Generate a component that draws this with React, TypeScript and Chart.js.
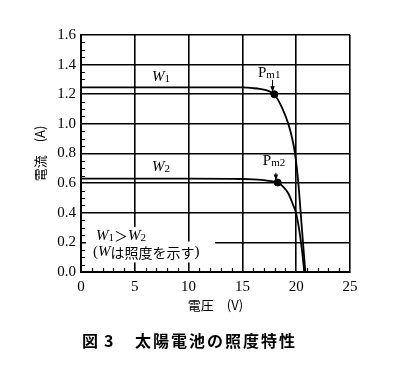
import React, { useEffect, useRef } from "react";
import { Chart, registerables } from "chart.js";

Chart.register(...registerables);

// ---- data ----
const voltageW1 = [0, 5, 10, 14, 15, 16, 16.6, 17.4, 17.97, 18.74, 19.27, 19.6, 19.89, 20.2, 20.5, 20.85];
const currentW1 = [1.247, 1.247, 1.247, 1.247, 1.246, 1.241, 1.236, 1.223, 1.2, 1.1, 1.0, 0.91, 0.8, 0.6, 0.32, 0];

const voltageW2 = [0, 5, 10, 15, 16, 17, 17.7, 18.28, 18.8, 19.27, 19.73, 19.98, 20.29, 20.55, 20.75];
const currentW2 = [0.63, 0.63, 0.63, 0.628, 0.626, 0.62, 0.614, 0.604, 0.575, 0.53, 0.45, 0.4, 0.28, 0.14, 0];

const pmVoltage = [17.97, 18.28];
const pmCurrent = [1.2, 0.604];
const pmNames = ["Pm1", "Pm2"];
const pmLabelV = [16.45, 16.9];
const pmLabelI = [1.345, 0.75];
const pmArrowTailI = [1.297, 0.67];

const curveNames = ["W1", "W2"];
const curveLabelV = [6.6, 6.6];
const curveLabelI = [1.318, 0.709];

const xTicks = [0, 5, 10, 15, 20, 25];
const yTicks = [0, 0.2, 0.4, 0.6, 0.8, 1.0, 1.2, 1.4, 1.6];

const xTitle = "電圧　(V)";
const yTitle = "電流　(A)";
const noteLine1V = 1.39;
const noteLine1I = 0.243;
const noteLine2V = 1.12;
const noteLine2I = 0.132;
const captionFig = "図 3";
const captionText = "太陽電池の照度特性";

const SERIF = "'Liberation Serif', 'DejaVu Serif', serif";
const JP = "'Noto Sans CJK JP', sans-serif";

type Run = { text: string; font: string; dy?: number };

function drawRuns(ctx: CanvasRenderingContext2D, x: number, y: number, runs: Run[]) {
  let cx = x;
  for (const r of runs) {
    ctx.font = r.font;
    ctx.fillText(r.text, cx, y + (r.dy || 0));
    cx += ctx.measureText(r.text).width;
  }
  return cx;
}

const annotationPlugin = {
  id: "annotations",
  beforeDatasetsDraw(chart: any) {
    const { ctx, chartArea } = chart;
    const xs = chart.scales.x;
    const ys = chart.scales.y;
    ctx.save();
    // white boxes behind the note
    const n1x = xs.getPixelForValue(noteLine1V);
    const n1y = ys.getPixelForValue(noteLine1I);
    const n2x = xs.getPixelForValue(noteLine2V);
    const n2y = ys.getPixelForValue(noteLine2I);
    ctx.fillStyle = "#fff";
    ctx.fillRect(chartArea.left + 5, n1y - 9, n1x + 57 - (chartArea.left + 5), 16);
    ctx.fillRect(chartArea.left + 5, n2y - 11, n2x + 122 - (chartArea.left + 5), 21);
    // minor ticks
    ctx.strokeStyle = "#000";
    ctx.lineWidth = 1.2;
    ctx.beginPath();
    for (let k = 1; k < 32; k++) {
      if (k % 4 === 0) continue;
      const py = Math.round(ys.getPixelForValue(k * 0.05)) + 0.5;
      ctx.moveTo(chartArea.left, py);
      ctx.lineTo(chartArea.left + 4, py);
    }
    for (let k = 1; k < 25; k++) {
      if (k % 5 === 0) continue;
      const px = Math.round(xs.getPixelForValue(k)) + 0.5;
      ctx.moveTo(px, chartArea.bottom);
      ctx.lineTo(px, chartArea.bottom - 4);
    }
    ctx.stroke();
    ctx.restore();
  },
  afterDatasetsDraw(chart: any) {
    const { ctx, chartArea } = chart;
    const xs = chart.scales.x;
    const ys = chart.scales.y;
    ctx.save();
    ctx.fillStyle = "#000";
    ctx.strokeStyle = "#000";
    ctx.textBaseline = "middle";
    ctx.textAlign = "left";
    // W1 / W2 labels
    curveNames.forEach((nm, i) => {
      drawRuns(ctx, xs.getPixelForValue(curveLabelV[i]), ys.getPixelForValue(curveLabelI[i]), [
        { text: nm[0], font: `italic 15px ${SERIF}` },
        { text: nm.slice(1), font: `11px ${SERIF}`, dy: 2 },
      ]);
    });
    // Pm labels and arrows
    pmNames.forEach((nm, i) => {
      const lx = xs.getPixelForValue(pmLabelV[i]);
      const ly = ys.getPixelForValue(pmLabelI[i]);
      drawRuns(ctx, lx, ly, [
        { text: nm[0], font: `15px ${SERIF}` },
        { text: nm.slice(1), font: `11px ${SERIF}`, dy: 2 },
      ]);
      const ax = xs.getPixelForValue(pmVoltage[i]) - 1.8;
      const ty = ys.getPixelForValue(pmArrowTailI[i]);
      const hy = ys.getPixelForValue(pmCurrent[i]) - 3;
      ctx.lineWidth = 1;
      ctx.beginPath();
      ctx.moveTo(ax, ty);
      ctx.lineTo(ax, hy);
      ctx.stroke();
      ctx.beginPath();
      ctx.moveTo(ax, hy + 1);
      ctx.lineTo(ax - 2.2, hy - 5);
      ctx.lineTo(ax + 2.2, hy - 5);
      ctx.closePath();
      ctx.fill();
    });
    // note text
    const n1x = xs.getPixelForValue(noteLine1V);
    const n1y = ys.getPixelForValue(noteLine1I);
    drawRuns(ctx, n1x, n1y, [
      { text: "W", font: `italic 15px ${SERIF}` },
      { text: "1", font: `11px ${SERIF}`, dy: 2 },
      { text: "＞", font: `14px ${JP}` },
      { text: "W", font: `italic 15px ${SERIF}` },
      { text: "2", font: `11px ${SERIF}`, dy: 2 },
    ]);
    const n2x = xs.getPixelForValue(noteLine2V);
    const n2y = ys.getPixelForValue(noteLine2I);
    drawRuns(ctx, n2x, n2y, [
      { text: "(", font: `15px ${SERIF}` },
      { text: "W", font: `italic 15px ${SERIF}` },
      { text: "は照度を示す", font: `14px ${JP}` },
      { text: ")", font: `15px ${SERIF}` },
    ]);
    // caption
    const cy = chartArea.bottom + 69;
    ctx.font = `bold 16px ${JP}`;
    (ctx as any).letterSpacing = "0px";
    ctx.fillText("図", chartArea.left + 1, cy);
    ctx.fillText("3", chartArea.left + 23, cy);
    (ctx as any).letterSpacing = "2px";
    ctx.fillText(captionText, chartArea.left + 54, cy);
    (ctx as any).letterSpacing = "0px";
    ctx.restore();
  },
};

export default function App() {
  const ref = useRef<HTMLCanvasElement | null>(null);
  useEffect(() => {
    if (!ref.current) return;
    const chart = new Chart(ref.current, {
      type: "scatter",
      data: {
        datasets: [
          {
            label: "W1",
            data: voltageW1.map((v, i) => ({ x: v, y: currentW1[i] })),
            showLine: true,
            borderColor: "#000",
            borderWidth: 1.8,
            pointRadius: 0,
            cubicInterpolationMode: "monotone",
          },
          {
            label: "W2",
            data: voltageW2.map((v, i) => ({ x: v, y: currentW2[i] })),
            showLine: true,
            borderColor: "#000",
            borderWidth: 1.8,
            pointRadius: 0,
            cubicInterpolationMode: "monotone",
          },
          {
            label: "Pm",
            data: pmVoltage.map((v, i) => ({ x: v, y: pmCurrent[i] })),
            showLine: false,
            pointRadius: 3.5,
            pointBackgroundColor: "#000",
            pointBorderColor: "#000",
          },
        ],
      } as any,
      options: {
        responsive: false,
        animation: false,
        events: [],
        layout: { padding: { left: 32, top: 35, right: 47, bottom: 53 } },
        plugins: {
          legend: { display: false },
          tooltip: { enabled: false },
          title: { display: false },
        },
        scales: {
          x: {
            type: "linear",
            min: 0,
            max: 25,
            afterBuildTicks: (s: any) => {
              s.ticks = xTicks.map((v) => ({ value: v }));
            },
            ticks: {
              color: "#000",
              font: { family: SERIF, size: 15 },
              padding: 6,
              maxRotation: 0,
              callback: (v: any) => String(v),
            },
            grid: { color: "#000", lineWidth: 1.6, drawTicks: false },
            border: { color: "#000", width: 2 },
            title: {
              display: true,
              text: xTitle,
              color: "#000",
              font: { family: JP, size: 13 },
              padding: 0,
            },
            afterFit: (s: any) => {
              s.height = 41;
            },
          },
          y: {
            type: "linear",
            min: 0,
            max: 1.6,
            afterBuildTicks: (s: any) => {
              s.ticks = yTicks.map((v) => ({ value: v }));
            },
            ticks: {
              color: "#000",
              font: { family: SERIF, size: 15 },
              padding: 5,
              callback: (v: any) => Number(v).toFixed(1),
            },
            grid: { color: "#000", lineWidth: 1.6, drawTicks: false },
            border: { color: "#000", width: 2 },
            title: {
              display: true,
              text: yTitle,
              color: "#000",
              font: { family: JP, size: 13 },
              padding: 0,
            },
            afterFit: (s: any) => {
              s.width = 49;
            },
          },
        },
      } as any,
      plugins: [annotationPlugin],
    });
    return () => chart.destroy();
  }, []);
  return (
    <div style={{ position: "fixed", left: 0, top: 0, width: 397, height: 366, background: "#fff" }}>
      <canvas ref={ref} width={397} height={366} style={{ display: "block" }} />
    </div>
  );
}
